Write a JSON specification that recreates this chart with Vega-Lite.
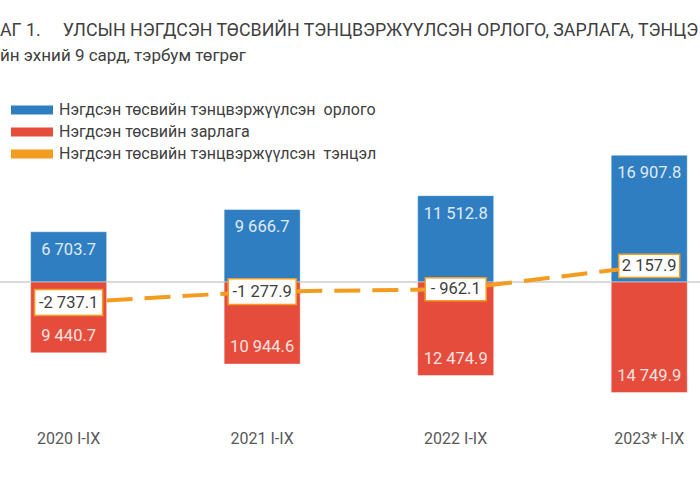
{
  "$schema": "https://vega.github.io/schema/vega-lite/v6.json",
  "width": 700,
  "height": 420,
  "autosize": {"type": "none"},
  "padding": {"left": 0, "top": 0, "right": 0, "bottom": 60},
  "background": "white",
  "title": {
    "text": "АГ 1.\u00a0\u00a0\u00a0\u00a0\u00a0УЛСЫН НЭГДСЭН ТӨСВИЙН ТЭНЦВЭРЖҮҮЛСЭН ОРЛОГО, ЗАРЛАГА, ТЭНЦЭ",
    "subtitle": "йн эхний 9 сард, тэрбум төгрөг",
    "anchor": "start",
    "frame": "group",
    "offset": -64,
    "font": "Roboto",
    "fontSize": 17.8,
    "fontWeight": "normal",
    "color": "#404040",
    "limit": 0,
    "subtitleFont": "Roboto",
    "subtitleFontSize": 17,
    "subtitleColor": "#404040",
    "subtitlePadding": 8
  },
  "config": {
    "font": "Roboto",
    "view": {"stroke": null}
  },
  "datasets": {
    "bars": [
      {"year": "2020 I-IX", "series": "Нэгдсэн төсвийн тэнцвэржүүлсэн  орлого", "value": 6703.7},
      {"year": "2020 I-IX", "series": "Нэгдсэн төсвийн зарлага", "value": -9440.7},
      {"year": "2021 I-IX", "series": "Нэгдсэн төсвийн тэнцвэржүүлсэн  орлого", "value": 9666.7},
      {"year": "2021 I-IX", "series": "Нэгдсэн төсвийн зарлага", "value": -10944.6},
      {"year": "2022 I-IX", "series": "Нэгдсэн төсвийн тэнцвэржүүлсэн  орлого", "value": 11512.8},
      {"year": "2022 I-IX", "series": "Нэгдсэн төсвийн зарлага", "value": -12474.9},
      {"year": "2023* I-IX", "series": "Нэгдсэн төсвийн тэнцвэржүүлсэн  орлого", "value": 16907.8},
      {"year": "2023* I-IX", "series": "Нэгдсэн төсвийн зарлага", "value": -14749.9}
    ],
    "balance": [
      {"year": "2020 I-IX", "series": "Нэгдсэн төсвийн тэнцвэржүүлсэн  тэнцэл", "value": -2737.1, "label": "-2 737.1"},
      {"year": "2021 I-IX", "series": "Нэгдсэн төсвийн тэнцвэржүүлсэн  тэнцэл", "value": -1277.9, "label": "-1 277.9"},
      {"year": "2022 I-IX", "series": "Нэгдсэн төсвийн тэнцвэржүүлсэн  тэнцэл", "value": -962.1, "label": "- 962.1"},
      {"year": "2023* I-IX", "series": "Нэгдсэн төсвийн тэнцвэржүүлсэн  тэнцэл", "value": 2157.9, "label": "2 157.9"}
    ]
  },
  "encoding": {
    "x": {
      "field": "year",
      "type": "nominal",
      "sort": null,
      "scale": {"paddingInner": 0.607, "paddingOuter": 0.112, "align": 0.706},
      "axis": {
        "title": null,
        "domain": false,
        "ticks": false,
        "labelAngle": 0,
        "labelFontSize": 16,
        "labelColor": "#595959",
        "labelPadding": 10
      }
    },
    "y": {
      "field": "value",
      "type": "quantitative",
      "scale": {"domain": [-18400, 37600], "nice": false},
      "axis": null
    }
  },
  "layer": [
    {
      "data": {"name": "bars"},
      "mark": {"type": "rule", "color": "#D9D9D9", "strokeWidth": 1},
      "encoding": {"x": null, "y": {"datum": 0}}
    },
    {
      "data": {"name": "bars"},
      "mark": {"type": "bar", "stroke": "#ffffff", "strokeOpacity": 0.45, "strokeWidth": 1},
      "encoding": {
        "color": {
          "field": "series",
          "type": "nominal",
          "scale": {
            "domain": ["Нэгдсэн төсвийн тэнцвэржүүлсэн  орлого", "Нэгдсэн төсвийн зарлага", "Нэгдсэн төсвийн тэнцвэржүүлсэн  тэнцэл"],
            "range": ["#2E7EC1", "#E64C3C", "#F39C1F"]
          },
          "legend": {
            "orient": "none",
            "legendX": 24,
            "legendY": 102,
            "title": null,
            "symbolType": "M-3.5,-0.75H3.5V0.75H-3.5Z",
            "symbolSize": 144,
            "symbolStrokeWidth": 0,
            "labelFont": "Roboto",
            "labelFontSize": 16,
            "labelColor": "#404040",
            "labelOffset": 19,
            "labelLimit": 0,
            "labelExpr": "replace(datum.label, '  ', '\u00a0\u00a0')",
            "rowPadding": 6,
            "encode": {
              "symbols": {
                "update": {
                  "shape": {"signal": "datum.value === 'Нэгдсэн төсвийн тэнцвэржүүлсэн  тэнцэл' ? 'M-3.5,-0.25H0.95V0.25H-3.5Z M3.0,-0.25H3.35V0.25H3.0Z' : 'M-3.5,-0.75H3.5V0.75H-3.5Z'"},
                  "fill": {"scale": "color", "field": "value"},
                  "strokeWidth": {"value": 0},
                  "opacity": {"value": 1}
                }
              }
            }
          }
        }
      }
    },
    {
      "data": {"name": "bars"},
      "transform": [
        {"filter": "datum.value > 0"},
        {"calculate": "replace(format(abs(datum.value), ',.1f'), ',', ' ')", "as": "txt"}
      ],
      "mark": {"type": "text", "dy": 18, "fontSize": 16.5, "color": "#FFFFFF", "opacity": 0.85, "baseline": "middle"},
      "encoding": {"text": {"field": "txt"}}
    },
    {
      "data": {"name": "bars"},
      "transform": [
        {"filter": "datum.value < 0"},
        {"calculate": "replace(format(abs(datum.value), ',.1f'), ',', ' ')", "as": "txt"}
      ],
      "mark": {"type": "text", "dy": -17, "fontSize": 16.5, "color": "#FFFFFF", "opacity": 0.85, "baseline": "middle"},
      "encoding": {"text": {"field": "txt"}}
    },
    {
      "data": {"name": "balance"},
      "mark": {"type": "line", "strokeWidth": 4, "strokeDash": [26, 12], "strokeCap": "butt"},
      "encoding": {"color": {"field": "series", "type": "nominal"}}
    },
    {
      "data": {"name": "balance"},
      "transform": [{"calculate": "length(datum.label)", "as": "len"}],
      "mark": {"type": "point", "shape": "M-1,-0.38H1V0.38H-1Z", "filled": true, "fill": "#FFFFFF", "stroke": "#F39C1F", "strokeWidth": 1.5, "opacity": 1},
      "encoding": {
        "size": {"field": "len", "type": "quantitative", "scale": {"domain": [7, 8], "range": [3721, 4624]}, "legend": null}
      }
    },
    {
      "data": {"name": "balance"},
      "mark": {"type": "text", "fontSize": 16.5, "color": "#404040", "baseline": "middle"},
      "encoding": {"text": {"field": "label"}}
    }
  ]
}
